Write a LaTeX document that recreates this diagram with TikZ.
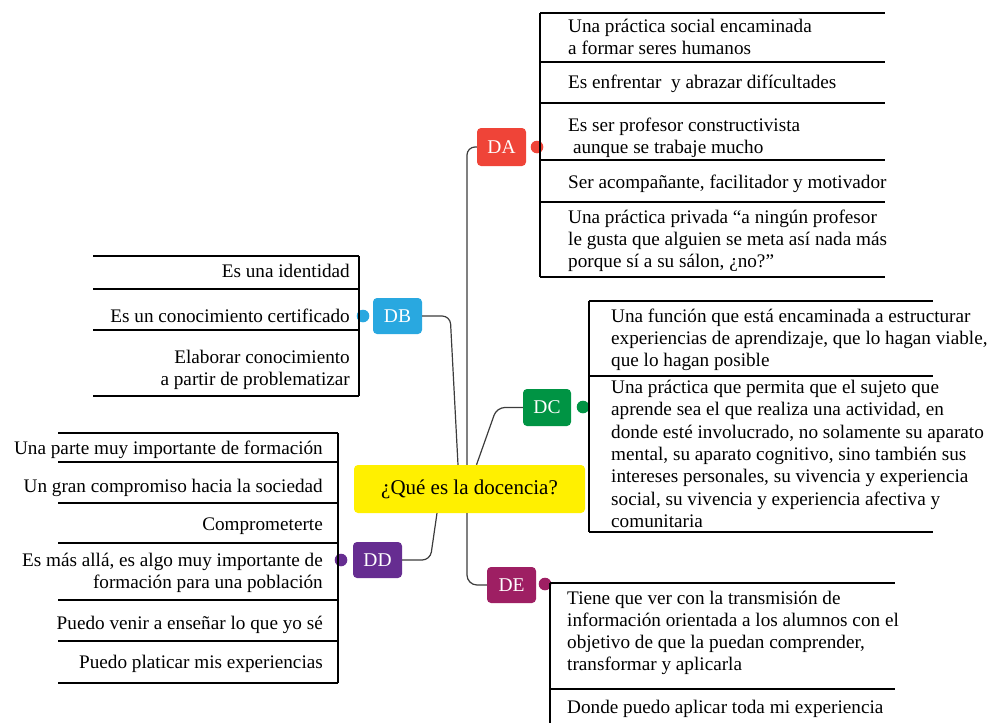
\documentclass[tikz,border=0pt]{standalone}
\usepackage{fontspec}
\setmainfont{Liberation Serif}
\definecolor{cA}{RGB}{239,68,56}
\definecolor{cB}{RGB}{41,168,224}
\definecolor{cC}{RGB}{0,148,68}
\definecolor{cD}{RGB}{102,45,145}
\definecolor{cE}{RGB}{158,31,99}
\definecolor{cQ}{RGB}{255,240,0}
\definecolor{cLine}{RGB}{60,60,60}
\tikzset{
  itemL/.style={anchor=base west, align=left, inner sep=0pt, font=\fontsize{19.2}{22}\selectfont},
  itemR/.style={anchor=base east, align=right, inner sep=0pt, font=\fontsize{19.2}{22}\selectfont},
  topic/.style={rounded corners=4pt, minimum width=49pt, minimum height=37pt, inner sep=0pt, text=white, font=\fontsize{19.5}{22}\selectfont},
  dot/.style={circle, minimum size=12.6pt, inner sep=0pt, draw=none},
  conn/.style={draw=cLine, line width=1.2pt, rounded corners=8pt},
  sep/.style={draw=black, line width=1.4pt},
}
\begin{document}
\begin{tikzpicture}[x=1pt,y=-1pt]
\useasboundingbox (0,0) rectangle (988,723);
% central node
\node[fill=cQ, rounded corners=4pt, minimum width=231pt, minimum height=48pt, inner sep=0pt, font=\fontsize{21}{24}\selectfont] (Q) at (469.5,489) {¿Qué es la docencia?};
% topics
\node[topic, fill=cA, minimum height=38pt] (DA) at (501.5,147) {DA};
\node[topic, fill=cB, minimum height=36pt] (DB) at (397.5,316) {DB};
\node[topic, fill=cC, minimum width=48pt] (DC) at (547,407.5) {DC};
\node[topic, fill=cD, minimum height=36pt] (DD) at (377.5,560) {DD};
\node[topic, fill=cE, minimum height=36pt] (DE) at (511.5,585) {DE};
% dots
\node[dot, fill=cA] (pA) at (537,147) {};
\node[dot, fill=cB] (pB) at (363,316) {};
\node[dot, fill=cC] (pC) at (583,407) {};
\node[dot, fill=cD] (pD) at (341,560) {};
\node[dot, fill=cE] (pE) at (545,584) {};
% connectors
\draw[conn] ([xshift=-2.5pt]Q.north) |- (DA.west);
\draw[conn] (DB.east) -- ([xshift=28pt]DB.east) -- ([xshift=-11.5pt]Q.north);
\draw[conn] ([xshift=7pt]Q.north) -- ([xshift=-26pt]DC.west) -- (DC.west);
\draw[conn] ([xshift=-32.5pt]Q.south) -- ([xshift=28pt]DD.east) -- (DD.east);
\draw[conn, rounded corners=10pt] ([xshift=-2.5pt]Q.south) |- (DE.west);
% DA list
\draw[sep] (540,13) -- (540,277);
\foreach \y in {13,62,103,160,202,277} \draw[sep] (540,\y) -- (885,\y);
\node[itemL] (a1) at (568,54.5) {Una práctica social encaminada\\a formar seres humanos};
\node[itemL] (a2) at (568,88.3) {Es enfrentar \ y abrazar difícultades};
\node[itemL] (a3) at (568,153.3) {Es ser profesor constructivista\\\ aunque se trabaje mucho};
\node[itemL] (a4) at (568,188.3) {Ser acompañante, facilitador y motivador};
\node[itemL] (a5) at (568,267) {Una práctica privada “a ningún profesor\\le gusta que alguien se meta así nada más\\porque sí a su sálon, ¿no?”};
% DB list
\draw[sep] (359,256) -- (359,396);
\foreach \y in {256,289,330,396} \draw[sep] (93,\y) -- (359,\y);
\node[itemR] (b1) at (350,277.3) {Es una identidad};
\node[itemR] (b2) at (350,322.7) {Es un conocimiento certificado};
\node[itemR] (b3) at (350,385) {Elaborar conocimiento\ \\a partir de problematizar};
% DC list
\draw[sep] (589,301) -- (589,532);
\foreach \y in {301,376,532} \draw[sep] (589,\y) -- (933,\y);
\node[itemL] (c1) at (611,366) {Una función que está encaminada a estructurar\\experiencias de aprendizaje, que lo hagan viable,\\que lo hagan posible};
\node[itemL, font=\fontsize{19.2}{22.3}\selectfont] (c2) at (611,527.3) {Una práctica que permita que el sujeto que\\aprende sea el que realiza una actividad, en\\donde esté involucrado, no solamente su aparato\\mental, su aparato cognitivo, sino también sus\\intereses personales, su vivencia y experiencia\\social, su vivencia y experiencia afectiva y\\comunitaria};
% DD list
\draw[sep] (338,433) -- (338,683);
\foreach \y in {433,462,503,543,600,641,683} \draw[sep] (58,\y) -- (338,\y);
\node[itemR] (d1) at (323,454) {Una parte muy importante de formación};
\node[itemR] (d2) at (323,492.7) {Un gran compromiso hacia la sociedad};
\node[itemR] (d3) at (323,530) {Comprometerte};
\node[itemR] (d4) at (323,588.3) {Es más allá, es algo muy importante de\\formación para una población};
\node[itemR] (d5) at (323,629.3) {Puedo venir a enseñar lo que yo sé};
\node[itemR] (d6) at (323,668.3) {Puedo platicar mis experiencias};
% DE list
\draw[sep] (550,583) -- (550,723);
\foreach \y in {583,689} \draw[sep] (550,\y) -- (895,\y);
\node[itemL, font=\fontsize{19.2}{21.7}\selectfont] (e1) at (567,670) {Tiene que ver con la transmisión de\\información orientada a los alumnos con el\\objetivo de que la puedan comprender,\\transformar y aplicarla};
\node[itemL] (e2) at (567,713.3) {Donde puedo aplicar toda mi experiencia};
\end{tikzpicture}
\end{document}
